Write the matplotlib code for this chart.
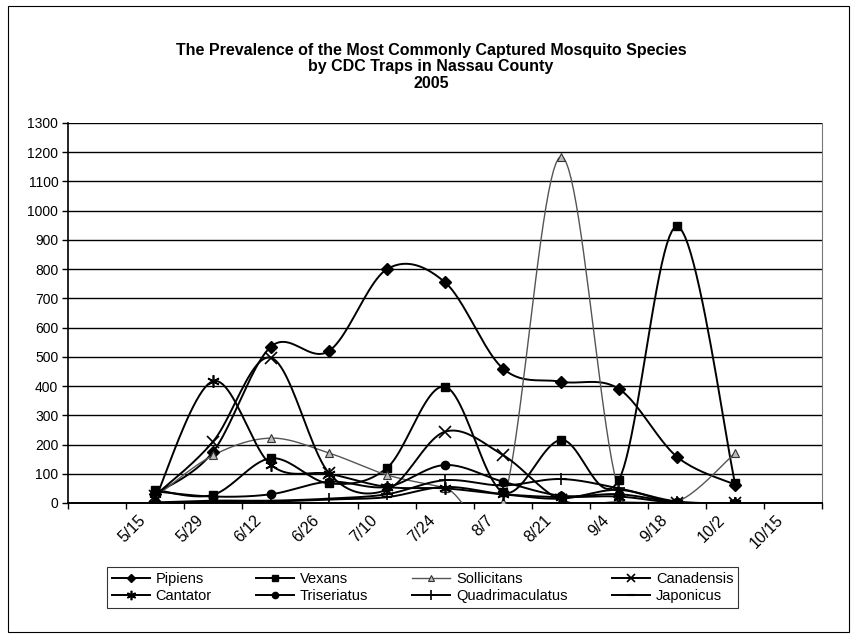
import matplotlib.pyplot as plt
import matplotlib.patches as patches
import numpy as np

plt.rcParams['font.family'] = ['Liberation Sans', 'DejaVu Sans']

# x categories (first slot on the axis has no label)
dates = ["5/15", "5/29", "6/12", "6/26", "7/10", "7/24", "8/7", "8/21", "9/4", "9/18", "10/2", "10/15"]

pipiens = [30, 175, 535, 520, 800, 755, 460, 415, 390, 158, 63]
vexans = [45, 28, 153, 67, 120, 398, 37, 216, 80, 946, 68]
sollicitans = [20, 163, 222, 171, 96, 52, 2, 1185, 40, 5, 171]
canadensis = [25, 210, 497, 102, 45, 244, 164, 10, 2, 0, 0]
cantator = [12, 417, 130, 100, 55, 50, 30, 20, 22, 0, 0]
triseriatus = [40, 22, 30, 73, 55, 130, 73, 25, 30, 3, 0]
quadrimaculatus = [2, 8, 8, 15, 30, 78, 60, 82, 50, 5, 0]
japonicus = [0, 5, 5, 12, 20, 55, 30, 15, 45, 0, 0]

y_ticks = list(range(0, 1301, 100))


def smooth(xs, ys, n=24):
    # excel style smoothed line: bezier through the points
    pts = np.column_stack([xs, ys]).astype(float)
    out = [pts[0]]
    for i in range(len(pts) - 1):
        p0 = pts[i - 1] if i > 0 else pts[i]
        p1 = pts[i]
        p2 = pts[i + 1]
        p3 = pts[i + 2] if i + 2 < len(pts) else pts[i + 1]
        c1 = p1 + (p2 - p0) / 6
        c2 = p2 - (p3 - p1) / 6
        t = np.linspace(0, 1, n)[1:, None]
        seg = ((1 - t) ** 3) * p1 + 3 * ((1 - t) ** 2) * t * c1 + 3 * (1 - t) * t ** 2 * c2 + t ** 3 * p2
        out.extend(seg)
    out = np.array(out)
    return out[:, 0], out[:, 1]


fig = plt.figure(figsize=(8.56, 6.4), dpi=100)
ax = fig.add_axes([68 / 856, 1 - 503 / 640, (822 - 68) / 856, (503 - 123) / 640])

series = [
    ("Pipiens", pipiens, dict(marker='D', ms=6, mfc='black', mec='black'), 'black', 1.4),
    ("Vexans", vexans, dict(marker='s', ms=6, mfc='black', mec='black'), 'black', 1.4),
    ("Sollicitans", sollicitans, dict(marker='^', ms=6, mfc='#bbbbbb', mec='#333333', mew=0.8), '#555555', 1.0),
    ("Canadensis", canadensis, dict(marker='x', ms=8, mec='black', mew=1.2), 'black', 1.4),
    ("Cantator", cantator, dict(marker=(6, 2, 0), ms=9, mec='black', mew=1.2), 'black', 1.4),
    ("Triseriatus", triseriatus, dict(marker='o', ms=6, mfc='black', mec='black'), 'black', 1.4),
    ("Quadrimaculatus", quadrimaculatus, dict(marker='+', ms=9, mec='black', mew=1.2), 'black', 1.4),
    ("Japonicus", japonicus, dict(marker='_', ms=7, mec='black', mew=1.5), 'black', 1.4),
]

handles = {}
for name, vals, mk, col, lw in series:
    xs = np.arange(1, len(vals) + 1)
    sx, sy = smooth(xs, vals)
    ax.plot(sx, sy, color=col, lw=lw, zorder=3)
    ax.plot(xs, vals, linestyle='none', zorder=4, **mk)
    leg_mk = dict(mk)
    leg_mk['ms'] = mk['ms'] * 0.75
    handles[name] = plt.Line2D([], [], color=col, lw=lw, **leg_mk)

ax.set_xlim(-0.5, 12.5)
ax.set_ylim(0, 1300)
ax.set_yticks(y_ticks)
ax.set_yticklabels([str(v) for v in y_ticks], fontsize=10)
ax.yaxis.grid(True, color='black', lw=1)
ax.set_axisbelow(True)

# labels sit a little left of the category centre, like the original
ax.set_xticks(np.arange(1, 13) - 0.3)
ax.set_xticklabels(dates, fontsize=11.5, rotation=45, ha='right', va='top', rotation_mode='anchor')
ax.set_xticks(np.arange(-0.5, 13), minor=True)
ax.tick_params(axis='x', which='major', length=0, pad=7)
ax.tick_params(axis='x', which='minor', length=4, direction='out', width=1)
ax.tick_params(axis='y', length=4, width=1, pad=3)

ax.spines['top'].set_visible(False)
ax.spines['right'].set_color('#777777')
ax.spines['right'].set_linestyle((0, (2, 1)))
ax.spines['right'].set_linewidth(0.8)
ax.spines['left'].set_linewidth(1.2)
ax.spines['bottom'].set_linewidth(1.4)

title = ("The Prevalence of the Most Commonly Captured Mosquito Species\n"
         "by CDC Traps in Nassau County\n2005")
fig.text(431 / 856, 1 - 67 / 640, title, ha='center', va='center', fontsize=11.5,
         fontweight='bold', linespacing=1.1)

order = ["Pipiens", "Cantator", "Vexans", "Triseriatus", "Sollicitans", "Quadrimaculatus",
         "Canadensis", "Japonicus"]
leg = fig.legend([handles[n] for n in order], order, ncol=4, loc='center', mode='expand',
                 bbox_to_anchor=(100 / 856, 1 - 613 / 640, 645 / 856, 51 / 640),
                 fontsize=10.5, frameon=True, fancybox=False, handlelength=2.6,
                 borderpad=0.3, labelspacing=0.25, columnspacing=0.5, handletextpad=0.4)
leg.get_frame().set_edgecolor('black')
leg.get_frame().set_linewidth(0.8)

fig.patches.append(patches.Rectangle((8 / 856, 1 - 632 / 640), (849 - 8) / 856, (632 - 6) / 640,
                                     transform=fig.transFigure, fill=False, edgecolor='black', lw=0.8))

fig.savefig('out.png', dpi=100)
